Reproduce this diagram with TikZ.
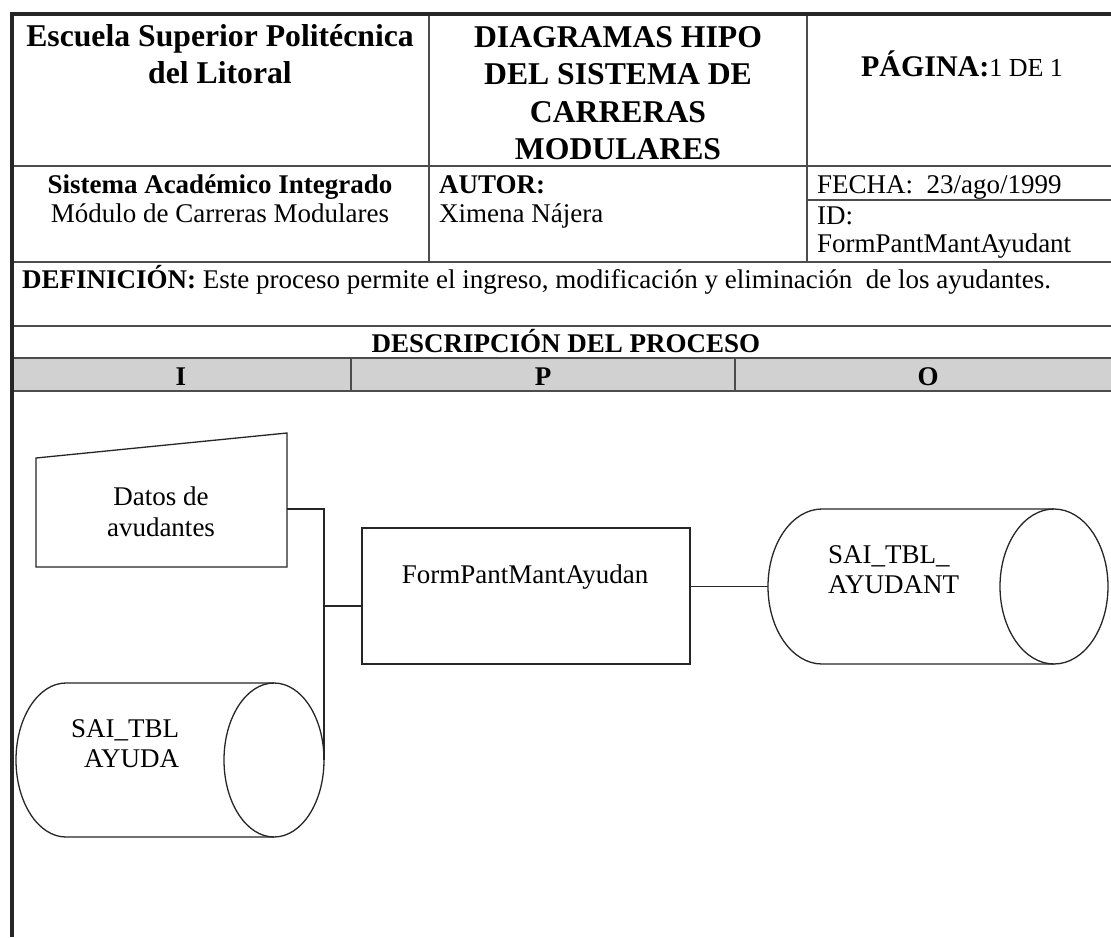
\documentclass[tikz,border=0pt]{standalone}
\usepackage{fontspec}
\setmainfont{Liberation Serif}
\tikzset{
  frameline/.style={line width=4pt, black!85},
  gridline/.style={line width=1.6pt, black!70},
  shapeline/.style={line width=1.3pt, black!85},
  conn/.style={line width=1.3pt, black!85},
  bodytxt/.style={font=\fontsize{27}{30}\selectfont, inner sep=0pt},
  boldtxt/.style={font=\fontsize{27}{30}\selectfont\bfseries, inner sep=0pt},
  titletxt/.style={font=\fontsize{31.7}{37.5}\selectfont\bfseries, inner sep=0pt},
}
\begin{document}
\begin{tikzpicture}[x=1pt,y=-1pt]
\useasboundingbox (0,0) rectangle (1111,937);
\fill[white] (0,0) rectangle (1111,937);
% shaded I P O row
\fill[black!18] (12,358) rectangle (1111,391);
% table grid
\draw[gridline] (12,166) -- (1111,166);
\draw[gridline] (429,14) -- (429,262);
\draw[gridline] (807,14) -- (807,262);
\draw[gridline] (807,200) -- (1111,200);
\draw[gridline] (12,262) -- (1111,262);
\draw[gridline] (12,326) -- (1111,326);
\draw[gridline] (12,358) -- (1111,358);
\draw[gridline] (12,391) -- (1111,391);
\draw[gridline, line width=1.2pt] (351,358) -- (351,391);
\draw[gridline, line width=1.2pt] (735,358) -- (735,391);
% outer frame
\draw[frameline] (12,937) -- (12,14) -- (1111,14);

% header row 1
\node[titletxt, anchor=base] (esc1) at (220,46) {Escuela Superior Politécnica};
\node[titletxt, anchor=base] (esc2) at (220,83) {del Litoral};
\node[titletxt, anchor=base] (dia1) at (618,47) {DIAGRAMAS HIPO};
\node[titletxt, anchor=base] (dia2) at (618,84.5) {DEL SISTEMA DE};
\node[titletxt, anchor=base] (dia3) at (618,122) {CARRERAS};
\node[titletxt, anchor=base] (dia4) at (618,159.5) {MODULARES};
\node[anchor=base, inner sep=0pt] (pag) at (962,76) {\fontsize{30}{34}\selectfont\bfseries PÁGINA:\fontsize{26}{30}\selectfont\mdseries 1 DE 1};

% header row 2
\node[boldtxt, anchor=base] (sis) at (220,193) {Sistema Académico Integrado};
\node[bodytxt, anchor=base] (mod) at (220,222) {Módulo de Carreras Modulares};
\node[boldtxt, anchor=base west] (aut) at (439,193) {AUTOR:};
\node[bodytxt, anchor=base west] (xim) at (439,222) {Ximena Nájera};
\node[bodytxt, anchor=base west] (fec) at (817,193) {FECHA:\ \ 23/ago/1999};
\node[bodytxt, anchor=base west] (idl) at (817,224) {ID:};
\node[bodytxt, anchor=base west] (idv) at (817,252) {FormPantMantAyudant};

% definition and description
\node[bodytxt, anchor=base west] (def) at (22,288) {\textbf{DEFINICIÓN:} Este proceso permite el ingreso, modificación y eliminación\ \ de los ayudantes.};
\node[boldtxt, anchor=base] (desc) at (566,352) {DESCRIPCIÓN DEL PROCESO};
\node[boldtxt, anchor=base] (ii) at (181,385) {I};
\node[boldtxt, anchor=base] (pp) at (543,385) {P};
\node[boldtxt, anchor=base] (oo) at (928,385) {O};

% manual input (trapezoid)
\draw[shapeline] (36,458) -- (287,433) -- (287,567) -- (36,567) -- cycle;
\node[bodytxt, anchor=base] (datos1) at (161,505) {Datos de};
\node[bodytxt, anchor=base] (datos2) at (161,536) {avudantes};
\coordinate (datosE) at (287,509);

% process box
\node[draw, shapeline, minimum width=328pt, minimum height=136pt, inner sep=0pt] (proc) at (526,596) {};
\node[bodytxt, anchor=base] (proctxt) at (525,583) {FormPantMantAyudan};

% right cylinder
\draw[shapeline] (1054,509) -- (822,509) arc[start angle=-90, end angle=-270, x radius=54, y radius=77.5] -- (1054,664);
\draw[shapeline] (1054,586.5) ellipse [x radius=54, y radius=77.5];
\coordinate (cylRW) at (768,586.5);
\node[bodytxt, anchor=base west] (cr1) at (828,563) {SAI\_TBL\_};
\node[bodytxt, anchor=base west] (cr2) at (828,593) {AYUDANT};

% left cylinder
\draw[shapeline] (274,683) -- (66,683) arc[start angle=-90, end angle=-270, x radius=50, y radius=77] -- (274,837);
\draw[shapeline] (274,760) ellipse [x radius=50, y radius=77];
\coordinate (cylLE) at (324,760);
\node[bodytxt, anchor=base west] (cl1) at (71,737) {SAI\_TBL};
\node[bodytxt, anchor=base west] (cl2) at (84,767) {AYUDA};

% connectors
\draw[conn] (datosE) -| (cylLE);
\coordinate (jn) at (324,606);
\draw[conn] (jn) -- (jn -| proc.west);
\draw[conn] (cylRW -| proc.east) -- (cylRW);
\end{tikzpicture}
\end{document}
